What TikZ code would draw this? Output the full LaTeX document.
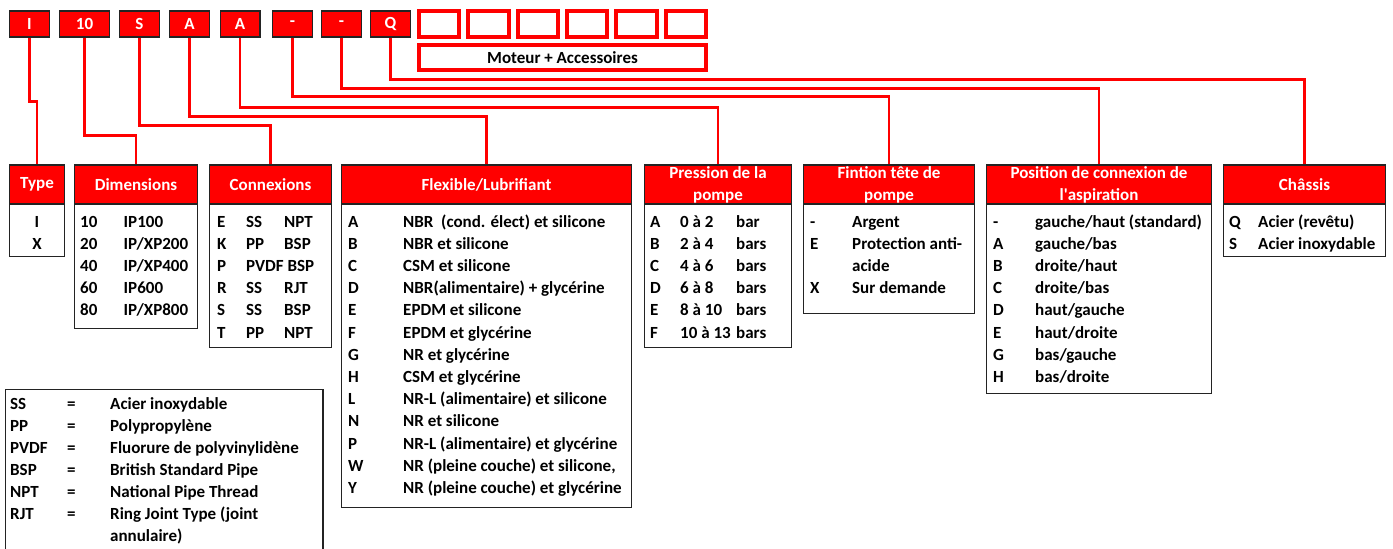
\documentclass[tikz,border=0pt]{standalone}
\usepackage{fontspec}
\setmainfont{Carlito}
\definecolor{rd}{RGB}{255,0,0}
\definecolor{frm}{RGB}{35,35,35}
\tikzset{
  base/.style={font=\bfseries\fontsize{17}{22}\selectfont, inner sep=0pt},
  code/.style={base, draw=frm, fill=rd, text=white, line width=1.3pt, minimum width=39.7pt, minimum height=26pt},
  empt/.style={draw=rd, line width=4pt, minimum width=40.3pt, minimum height=26pt, inner sep=0pt},
  hdr/.style={base, draw=frm, fill=rd, text=white, line width=1.3pt, minimum height=39pt, align=center},
  body/.style={draw=frm, fill=white, line width=1.3pt, anchor=north, inner sep=0pt},
  txt/.style={base, anchor=base west, text=black},
  ctr/.style={base, anchor=base, text=black},
  conn/.style={draw=rd, line width=2.5pt},
}
\newcommand\rw[4]{\node[txt] (#1) at (#2,{227+22.2*#3}) {#4};}
\newcommand\lrw[4]{\node[txt] (#1) at (#2,{409+22*#3}) {#4};}
\begin{document}
\begin{tikzpicture}[x=1pt,y=-1pt]
\path[use as bounding box, fill=white] (0,0) rectangle (1393,549);

% code boxes
\node[code] (c1) at (29.5,24) {I};
\node[code, minimum width=49.7pt] (c2) at (84.5,24) {10};
\node[code] (c3) at (139.5,24) {S};
\node[code] (c4) at (189.5,24) {A};
\node[code] (c5) at (240,24) {A};
\node[code] (c6) at (292.5,24) {-};
\node[code] (c7) at (341.5,24) {-};
\node[code] (c8) at (390.5,24) {Q};
\node[empt] (e1) at (439.2,24) {};
\node[empt] (e2) at (488.5,24) {};
\node[empt] (e3) at (537.8,24) {};
\node[empt] (e4) at (587.1,24) {};
\node[empt] (e5) at (636.4,24) {};
\node[empt] (e6) at (685.7,24) {};
\node[empt, base, minimum width=287pt, minimum height=25pt] (mot) at (562.5,57.5) {Moteur + Accessoires};

% bodies
\node[body, minimum width=54.7pt, minimum height=52pt] (b1) at (37,204) {};
\node[body, minimum width=122.7pt, minimum height=124pt] (b2) at (136,204) {};
\node[body, minimum width=121.7pt, minimum height=143pt] (b3) at (270.5,204) {};
\node[body, minimum width=289.7pt, minimum height=303pt] (b4) at (486.5,204) {};
\node[body, minimum width=146.7pt, minimum height=143pt] (b5) at (718,204) {};
\node[body, minimum width=170.7pt, minimum height=109pt] (b6) at (889,204) {};
\node[body, minimum width=224.7pt, minimum height=189pt] (b7) at (1099,204) {};
\node[body, minimum width=161.7pt, minimum height=52pt] (b8) at (1304.5,204) {};

% headers
\node[hdr, minimum width=54.7pt] (h1) at (37,184.5) {Type};
\node[hdr, minimum width=122.7pt] (h2) at (136,184.5) {Dimensions};
\node[hdr, minimum width=121.7pt] (h3) at (270.5,184.5) {Connexions};
\node[hdr, minimum width=289.7pt] (h4) at (486.5,184.5) {Flexible/Lubrifiant};
\node[hdr, minimum width=146.7pt] (h5) at (718,184.5) {Pression de la\\pompe};
\node[hdr, minimum width=170.7pt] (h6) at (889,184.5) {Fintion tête de\\pompe};
\node[hdr, minimum width=224.7pt] (h7) at (1099,184.5) {Position de connexion de\\l\textquotesingle aspiration};
\node[hdr, minimum width=161.7pt] (h8) at (1304.5,184.5) {Châssis};

% connectors
\draw[conn] (c1.south) -- ++(0,64) -| (h1.north);
\draw[conn] (c2.south) -- ++(0,98) -| (h2.north);
\draw[conn] (c3.south) -- ++(0,88) -| (h3.north);
\draw[conn] (c4.south) -- ++(0,79) -| (h4.north);
\draw[conn] (c5.south) -- ++(0,70) -| (h5.north);
\draw[conn] (c6.south) -- ++(0,59) -| (h6.north);
\draw[conn] (c7.south) -- ++(0,51) -| (h7.north);
\draw[conn] (c8.south) -- ++(0,42) -| (h8.north);

% Type
\node[ctr] (t1) at (37,227) {I};
\node[ctr] (t2) at (37,249.2) {X};
% Dimensions
\rw{d1a}{80}{0}{10}\rw{d1b}{123.5}{0}{IP100}
\rw{d2a}{80}{1}{20}\rw{d2b}{123.5}{1}{IP/XP200}
\rw{d3a}{80}{2}{40}\rw{d3b}{123.5}{2}{IP/XP400}
\rw{d4a}{80}{3}{60}\rw{d4b}{123.5}{3}{IP600}
\rw{d5a}{80}{4}{80}\rw{d5b}{123.5}{4}{IP/XP800}
% Connexions
\rw{k1a}{217}{0}{E}\rw{k1b}{246}{0}{SS}\rw{k1c}{284}{0}{NPT}
\rw{k2a}{217}{1}{K}\rw{k2b}{246}{1}{PP}\rw{k2c}{284}{1}{BSP}
\rw{k3a}{217}{2}{P}\rw{k3b}{246}{2}{PVDF~BSP}
\rw{k4a}{217}{3}{R}\rw{k4b}{246}{3}{SS}\rw{k4c}{284}{3}{RJT}
\rw{k5a}{217}{4}{S}\rw{k5b}{246}{4}{SS}\rw{k5c}{284}{4}{BSP}
\rw{k6a}{217}{5}{T}\rw{k6b}{246}{5}{PP}\rw{k6c}{284}{5}{NPT}
% Flexible
\rw{f1a}{348}{0}{A}\rw{f1b}{403}{0}{NBR~~(cond. élect) et silicone}
\rw{f2a}{348}{1}{B}\rw{f2b}{403}{1}{NBR et silicone}
\rw{f3a}{348}{2}{C}\rw{f3b}{403}{2}{CSM et silicone}
\rw{f4a}{348}{3}{D}\rw{f4b}{403}{3}{NBR(alimentaire) + glycérine}
\rw{f5a}{348}{4}{E}\rw{f5b}{403}{4}{EPDM et silicone}
\rw{f6a}{348}{5}{F}\rw{f6b}{403}{5}{EPDM et glycérine}
\rw{f7a}{348}{6}{G}\rw{f7b}{403}{6}{NR et glycérine}
\rw{f8a}{348}{7}{H}\rw{f8b}{403}{7}{CSM et glycérine}
\rw{f9a}{348}{8}{L}\rw{f9b}{403}{8}{NR-L (alimentaire) et silicone}
\rw{f10a}{348}{9}{N}\rw{f10b}{403}{9}{NR et silicone}
\rw{f11a}{348}{10}{P}\rw{f11b}{403}{10}{NR-L (alimentaire) et glycérine}
\rw{f12a}{348}{11}{W}\rw{f12b}{403}{11}{NR (pleine couche) et silicone,}
\rw{f13a}{348}{12}{Y}\rw{f13b}{403}{12}{NR (pleine couche) et glycérine}
% Pression
\rw{p1a}{650}{0}{A}\rw{p1b}{680}{0}{0 à 2}\rw{p1c}{736}{0}{bar}
\rw{p2a}{650}{1}{B}\rw{p2b}{680}{1}{2 à 4}\rw{p2c}{736}{1}{bars}
\rw{p3a}{650}{2}{C}\rw{p3b}{680}{2}{4 à 6}\rw{p3c}{736}{2}{bars}
\rw{p4a}{650}{3}{D}\rw{p4b}{680}{3}{6 à 8}\rw{p4c}{736}{3}{bars}
\rw{p5a}{650}{4}{E}\rw{p5b}{680}{4}{8 à 10}\rw{p5c}{736}{4}{bars}
\rw{p6a}{650}{5}{F}\rw{p6b}{680}{5}{10 à 13}\rw{p6c}{736}{5}{bars}
% Fintion
\rw{g1a}{810}{0}{-}\rw{g1b}{852}{0}{Argent}
\rw{g2a}{810}{1}{E}\rw{g2b}{852}{1}{Protection anti-}
\rw{g3b}{852}{2}{acide}
\rw{g4a}{810}{3}{X}\rw{g4b}{852}{3}{Sur demande}
% Position
\rw{q1a}{993}{0}{-}\rw{q1b}{1035}{0}{gauche/haut (standard)}
\rw{q2a}{993}{1}{A}\rw{q2b}{1035}{1}{gauche/bas}
\rw{q3a}{993}{2}{B}\rw{q3b}{1035}{2}{droite/haut}
\rw{q4a}{993}{3}{C}\rw{q4b}{1035}{3}{droite/bas}
\rw{q5a}{993}{4}{D}\rw{q5b}{1035}{4}{haut/gauche}
\rw{q6a}{993}{5}{E}\rw{q6b}{1035}{5}{haut/droite}
\rw{q7a}{993}{6}{G}\rw{q7b}{1035}{6}{bas/gauche}
\rw{q8a}{993}{7}{H}\rw{q8b}{1035}{7}{bas/droite}
% Chassis
\rw{s1a}{1229}{0}{Q}\rw{s1b}{1258}{0}{Acier (revêtu)}
\rw{s2a}{1229}{1}{S}\rw{s2b}{1258}{1}{Acier inoxydable}

% legend
\node[draw=frm, line width=1.3pt, fill=white, anchor=north west, minimum width=317.7pt, minimum height=190pt, inner sep=0pt] (leg) at (4.6,388.6) {};
\lrw{l1a}{10}{0}{SS}\lrw{l1b}{67}{0}{=}\lrw{l1c}{110}{0}{Acier inoxydable}
\lrw{l2a}{10}{1}{PP}\lrw{l2b}{67}{1}{=}\lrw{l2c}{110}{1}{Polypropylène}
\lrw{l3a}{10}{2}{PVDF}\lrw{l3b}{67}{2}{=}\lrw{l3c}{110}{2}{Fluorure de polyvinylidène}
\lrw{l4a}{10}{3}{BSP}\lrw{l4b}{67}{3}{=}\lrw{l4c}{110}{3}{British Standard Pipe}
\lrw{l5a}{10}{4}{NPT}\lrw{l5b}{67}{4}{=}\lrw{l5c}{110}{4}{National Pipe Thread}
\lrw{l6a}{10}{5}{RJT}\lrw{l6b}{67}{5}{=}\lrw{l6c}{110}{5}{Ring Joint Type (joint}
\lrw{l7c}{110}{6}{annulaire)}
\end{tikzpicture}
\end{document}
